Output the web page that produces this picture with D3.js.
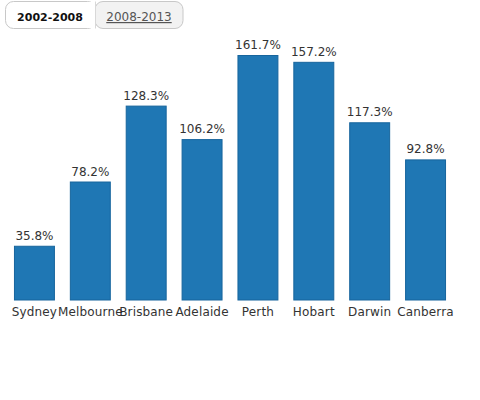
<!DOCTYPE html>
<html>
<head>
<meta charset="utf-8">
<script src="https://cdn.jsdelivr.net/npm/d3@7"></script>
<style>
  body { margin: 0; background: #fff; }
  svg { display: block; font-family: "DejaVu Sans", sans-serif; }
</style>
</head>
<body>
<svg id="chart"></svg>
<script>
const cities = ['Sydney', 'Melbourne', 'Brisbane', 'Adelaide', 'Perth', 'Hobart', 'Darwin', 'Canberra'];
const growth = [35.8, 78.2, 128.3, 106.2, 161.7, 157.2, 117.3, 92.8];
const periods = ['2002-2008', '2008-2013'];

const width = 480, height = 400;

const svg = d3.select('#chart')
    .attr('width', width)
    .attr('height', height);

// period toggle
const tabs = svg.append('g');
const tabX = [5, 95, 183];
tabs.append('rect')
    .attr('x', tabX[1]).attr('y', 1.5)
    .attr('width', tabX[2] - tabX[1]).attr('height', 27)
    .attr('rx', 8)
    .attr('fill', '#f2f2f2')
    .attr('stroke', '#c8c8c8');
tabs.append('rect')
    .attr('x', tabX[0] + 0.5).attr('y', 1.5)
    .attr('width', tabX[1] - tabX[0]).attr('height', 27)
    .attr('rx', 8)
    .attr('fill', '#fff')
    .attr('stroke', '#c8c8c8');
tabs.append('rect')
    .attr('x', tabX[1] - 10).attr('y', 2)
    .attr('width', 10).attr('height', 26)
    .attr('fill', '#fff');
tabs.append('line')
    .attr('x1', tabX[1] + 0.5).attr('x2', tabX[1] + 0.5)
    .attr('y1', 1.5).attr('y2', 28.5)
    .attr('stroke', '#d8d8d8');
tabs.append('text')
    .attr('x', (tabX[0] + tabX[1]) / 2).attr('y', 21)
    .attr('text-anchor', 'middle')
    .style('font-size', '11px')
    .style('font-weight', 'bold')
    .attr('fill', '#111')
    .text(periods[0]);
tabs.append('text')
    .attr('x', (tabX[1] + tabX[2]) / 2).attr('y', 21)
    .attr('text-anchor', 'middle')
    .style('font-size', '12px')
    .style('text-decoration', 'underline')
    .attr('fill', '#555')
    .text(periods[1]);

// bars
const xscale = d3.scaleBand()
    .domain(cities)
    .range([0, 460])
    .paddingInner(0.267)
    .paddingOuter(0.25);

const yscale = d3.scaleLinear()
    .domain([0, d3.max(growth)])
    .range([300, 55]);

const data = cities.map((c, i) => ({ city: c, value: growth[i] }));

const chart = svg.append('g');

chart.selectAll('rect.bar')
    .data(data)
    .join('rect')
    .attr('class', 'bar')
    .attr('x', d => xscale(d.city) + 0.5)
    .attr('y', d => yscale(d.value) + 0.5)
    .attr('width', xscale.bandwidth() - 1)
    .attr('height', d => yscale(0) - yscale(d.value) - 0.5)
    .attr('fill', '#1f77b4')
    .attr('stroke', '#17659d');

chart.selectAll('text.value')
    .data(data)
    .join('text')
    .attr('class', 'value')
    .attr('x', d => xscale(d.city) + xscale.bandwidth() / 2)
    .attr('y', d => yscale(d.value) - 6)
    .attr('text-anchor', 'middle')
    .style('font-size', '12px')
    .attr('fill', '#333')
    .text(d => d.value.toFixed(1) + '%');

const xaxis = d3.axisBottom(xscale).tickSize(0).tickPadding(7);
const xaxis_group = chart.append('g')
    .attr('transform', 'translate(0, 300)')
    .call(xaxis);
xaxis_group.select('.domain').remove();
xaxis_group.selectAll('text')
    .style('font-size', '12px')
    .style('letter-spacing', '0.15px')
    .style('font-family', '"DejaVu Sans", sans-serif')
    .attr('fill', '#333');
</script>
</body>
</html>
